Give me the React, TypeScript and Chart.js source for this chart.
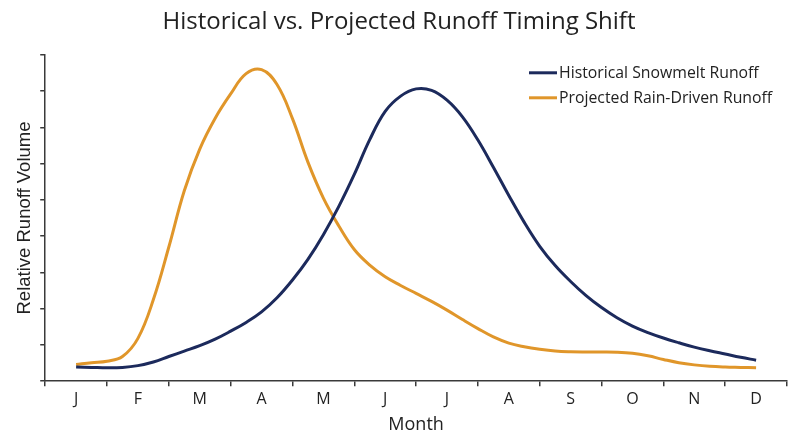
import React, { useEffect, useRef } from "react";
import { Chart, registerables } from "chart.js";

Chart.register(...registerables);

const MONTHS = ["J", "F", "M", "A", "M", "J", "J", "A", "S", "O", "N", "D"];

// readings taken every quarter month, from mid-January (0) to mid-December (11)
const SAMPLES_PER_MONTH = 4;

const HIST_VAL = [
  3.9, 3.8, 3.7, 3.8,
  4.3, 5.3, 6.8, 8.3,
  9.8, 11.6, 13.8, 16.2,
  19.1, 23.0, 27.9, 33.6,
  40.4, 48.2, 57.0, 66.6,
  74.4, 78.6, 80.6, 80.2,
  77.5, 72.9, 66.5, 59.0,
  51.2, 43.8, 37.2, 31.9,
  27.5, 23.6, 20.3, 17.5,
  15.2, 13.4, 11.9, 10.6,
  9.4, 8.4, 7.5, 6.6,
  5.8,
];

const PROJ_VAL = [
  4.6, 5.1, 5.5, 6.8,
  11.8, 22.5, 37.0, 52.5,
  64.0, 72.5, 79.2, 84.8,
  85.9, 81.8, 72.4, 60.4,
  50.5, 42.8, 36.3, 32.0,
  28.8, 26.4, 24.2, 22.0,
  19.6, 17.0, 14.5, 12.2,
  10.5, 9.5, 8.8, 8.3,
  8.1, 8.05, 8.05, 8.0,
  7.7, 7.0, 6.0, 5.1,
  4.5, 4.1, 3.9, 3.8,
  3.7,
];

const SERIES_NAMES = ["Historical Snowmelt Runoff", "Projected Rain-Driven Runoff"];
const SERIES_COLORS = ["#1c2a5c", "#e0962a"];

const FONT = "'Open Sans', 'Noto Sans', sans-serif";
const TEXT = "#222222";
const AXIS = "#3a3a3a";

const toPoints = (vals: number[]) => vals.map((y, i) => ({ x: i / SAMPLES_PER_MONTH, y }));

const legendPlugin = {
  id: "insideLegend",
  afterDraw(chart: any) {
    const { ctx, chartArea } = chart;
    const x0 = chartArea.right - 258;
    ctx.save();
    ctx.font = `15.8px ${FONT}`;
    ctx.textBaseline = "middle";
    chart.data.datasets.forEach((ds: any, i: number) => {
      const y = chartArea.top + 18 + i * 25;
      ctx.strokeStyle = ds.borderColor;
      ctx.lineWidth = 3;
      ctx.beginPath();
      ctx.moveTo(x0, y);
      ctx.lineTo(x0 + 28, y);
      ctx.stroke();
      ctx.fillStyle = TEXT;
      ctx.fillText(ds.label, x0 + 30, y + 1);
    });
    ctx.restore();
  },
};

export default function App() {
  const ref = useRef<HTMLCanvasElement | null>(null);

  useEffect(() => {
    document.body.style.margin = "0";
    const canvas = ref.current;
    if (!canvas) return;
    const chart = new Chart(canvas, {
      type: "line",
      data: {
        labels: MONTHS,
        datasets: [
          {
            label: SERIES_NAMES[0],
            data: toPoints(HIST_VAL),
            borderColor: SERIES_COLORS[0],
            backgroundColor: SERIES_COLORS[0],
            borderWidth: 3,
            pointRadius: 0,
            tension: 0.4,
            xAxisID: "xv",
          },
          {
            label: SERIES_NAMES[1],
            data: toPoints(PROJ_VAL),
            borderColor: SERIES_COLORS[1],
            backgroundColor: SERIES_COLORS[1],
            borderWidth: 3,
            pointRadius: 0,
            tension: 0.4,
            xAxisID: "xv",
          },
        ],
      },
      options: {
        animation: false,
        responsive: false,
        maintainAspectRatio: false,
        layout: { padding: { left: 11, right: 13, top: 0, bottom: 7 } },
        plugins: {
          legend: { display: false },
          tooltip: { enabled: false },
          title: {
            display: true,
            text: "Historical vs. Projected Runoff Timing Shift",
            color: TEXT,
            font: { family: FONT, size: 24, weight: "normal" },
            padding: { top: 8, bottom: 18 },
          },
        },
        scales: {
          x: {
            type: "category",
            labels: MONTHS,
            offset: true,
            grid: { offset: true, drawOnChartArea: false, tickLength: 5, color: AXIS, lineWidth: 1.5 },
            border: { color: AXIS, width: 1.5 },
            ticks: { color: TEXT, font: { family: FONT, size: 16 }, padding: 4, autoSkip: false, maxRotation: 0 },
            title: {
              display: true,
              text: "Month",
              color: TEXT,
              font: { family: FONT, size: 18 },
              padding: { top: 1, bottom: 4 },
            },
          },
          xv: {
            type: "linear",
            display: false,
            min: -0.5,
            max: 11.5,
          },
          y: {
            min: 0,
            max: 90,
            ticks: { display: false, stepSize: 10 },
            grid: { drawOnChartArea: false, tickLength: 5, color: AXIS, lineWidth: 1.5 },
            border: { color: AXIS, width: 1.5 },
            title: {
              display: true,
              text: "Relative Runoff Volume",
              color: TEXT,
              font: { family: "'Liberation Sans', Arial, sans-serif", size: 18.5 },
              padding: { top: 3, bottom: 4 },
            },
          },
        },
      },
      plugins: [legendPlugin],
    });
    return () => chart.destroy();
  }, []);

  return (
    <div style={{ width: 800, height: 447 }}>
      <canvas ref={ref} width={800} height={447} style={{ display: "block" }} />
    </div>
  );
}
